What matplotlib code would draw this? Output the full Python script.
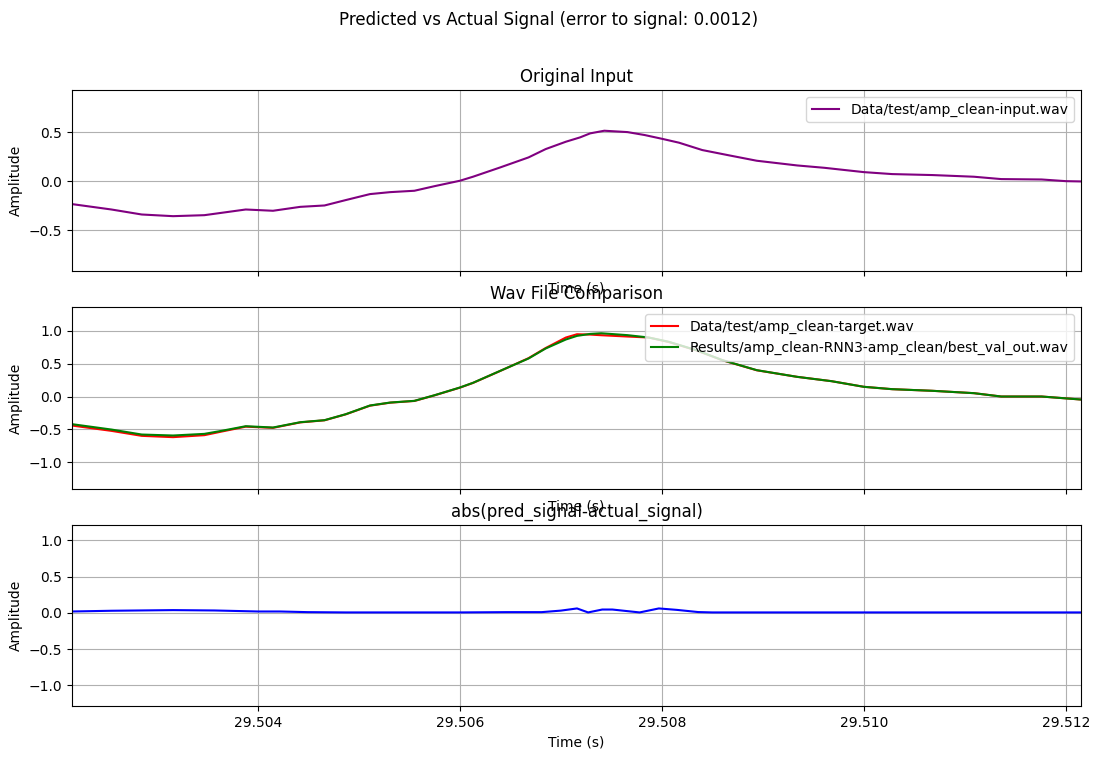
import matplotlib
matplotlib.use("Agg")
import matplotlib.pyplot as plt

# ---------------- data ----------------
t_input = [29.50216, 29.50255, 29.50285, 29.50316, 29.50347, 29.50364, 29.50388,
           29.50415, 29.50442, 29.50466, 29.50487, 29.50511, 29.50531, 29.50555,
           29.50575, 29.50600, 29.50613, 29.50640, 29.50668, 29.50685, 29.50705,
           29.50719, 29.50729, 29.50743, 29.50766, 29.50783, 29.50800, 29.50817,
           29.50840, 29.50867, 29.50894, 29.50934, 29.50961, 29.51000, 29.51028,
           29.51068, 29.51109, 29.51136, 29.51176, 29.51200, 29.51215]
v_input = [-0.231, -0.286, -0.337, -0.354, -0.344, -0.320, -0.286,
           -0.299, -0.259, -0.245, -0.190, -0.129, -0.109, -0.095,
           -0.048, 0.007, 0.048, 0.143, 0.245, 0.330, 0.405,
           0.449, 0.490, 0.517, 0.503, 0.473, 0.435, 0.395,
           0.320, 0.265, 0.211, 0.163, 0.139, 0.095, 0.075,
           0.065, 0.048, 0.024, 0.020, 0.003, 0.000]

t_cmp = [29.50216, 29.50255, 29.50285, 29.50316, 29.50347, 29.50364, 29.50388,
         29.50415, 29.50442, 29.50466, 29.50487, 29.50511, 29.50531, 29.50555,
         29.50575, 29.50600, 29.50613, 29.50640, 29.50668, 29.50685, 29.50705,
         29.50716, 29.50729, 29.50740, 29.50766, 29.50787, 29.50807, 29.50834,
         29.50860, 29.50894, 29.50934, 29.50968, 29.51000, 29.51028, 29.51068,
         29.51109, 29.51136, 29.51176, 29.51215]
v_target = [-0.443, -0.524, -0.600, -0.620, -0.590, -0.535, -0.460,
            -0.478, -0.395, -0.363, -0.272, -0.140, -0.094, -0.068,
            0.018, 0.135, 0.207, 0.390, 0.585, 0.740, 0.900,
            0.950, 0.945, 0.935, 0.915, 0.900, 0.830, 0.705,
            0.553, 0.400, 0.300, 0.234, 0.148, 0.112, 0.087,
            0.051, 0.000, 0.000, -0.046]
v_pred = [-0.422, -0.504, -0.580, -0.595, -0.570, -0.524, -0.453,
          -0.473, -0.392, -0.361, -0.270, -0.137, -0.092, -0.066,
          0.020, 0.137, 0.209, 0.392, 0.580, 0.733, 0.870,
          0.925, 0.955, 0.965, 0.936, 0.900, 0.835, 0.707,
          0.555, 0.402, 0.300, 0.234, 0.148, 0.112, 0.087,
          0.051, 0.000, 0.000, -0.046]

t_err = [29.50216, 29.50255, 29.50316, 29.50357, 29.50400, 29.50422, 29.50449,
         29.50487, 29.50600, 29.50647, 29.50681, 29.50700, 29.50716, 29.50727,
         29.50741, 29.50751, 29.50778, 29.50797, 29.50815, 29.50836, 29.50850,
         29.51215]
v_err = [0.018, 0.028, 0.037, 0.032, 0.018, 0.018, 0.009,
         0.005, 0.005, 0.009, 0.009, 0.030, 0.060, 0.005,
         0.045, 0.045, 0.005, 0.060, 0.040, 0.010, 0.005,
         0.005]

suptitle = "Predicted vs Actual Signal (error to signal: 0.0012)"
label_input = "Data/test/amp_clean-input.wav"
label_target = "Data/test/amp_clean-target.wav"
label_pred = "Results/amp_clean-RNN3-amp_clean/best_val_out.wav"

# ---------------- figure ----------------
fig, axes = plt.subplots(3, 1, sharex=True, figsize=(10.98, 7.59), dpi=100)
fig.subplots_adjust(left=0.0656, right=0.9845, top=0.8814, bottom=0.0698, hspace=0.2)
fig.suptitle(suptitle, y=0.985)

ax1, ax2, ax3 = axes

ax1.plot(t_input, v_input, color="purple", label=label_input)
ax1.set_title("Original Input")
ax1.set_ylim(-0.915, 0.932)

ax2.plot(t_cmp, v_target, color="red", label=label_target)
ax2.plot(t_cmp, v_pred, color="green", label=label_pred)
ax2.set_title("Wav File Comparison")
ax2.set_ylim(-1.405, 1.359)

ax3.plot(t_err, v_err, color="blue")
ax3.set_title("abs(pred_signal-actual_signal)")
ax3.set_ylim(-1.287, 1.214)

for ax in axes:
    ax.set_xlabel("Time (s)")
    ax.set_ylabel("Amplitude")
    ax.grid(True)
    ax.xaxis.set_tick_params(labelbottom=(ax is ax3))
ax1.legend(loc="upper right")
ax2.legend(loc="upper right")

ax3.set_xlim(t_input[0], t_input[-1])
ax3.set_xticks([29.504, 29.506, 29.508, 29.510, 29.512])
ax3.ticklabel_format(axis="x", useOffset=False)

fig.savefig("out.png", dpi=100)
